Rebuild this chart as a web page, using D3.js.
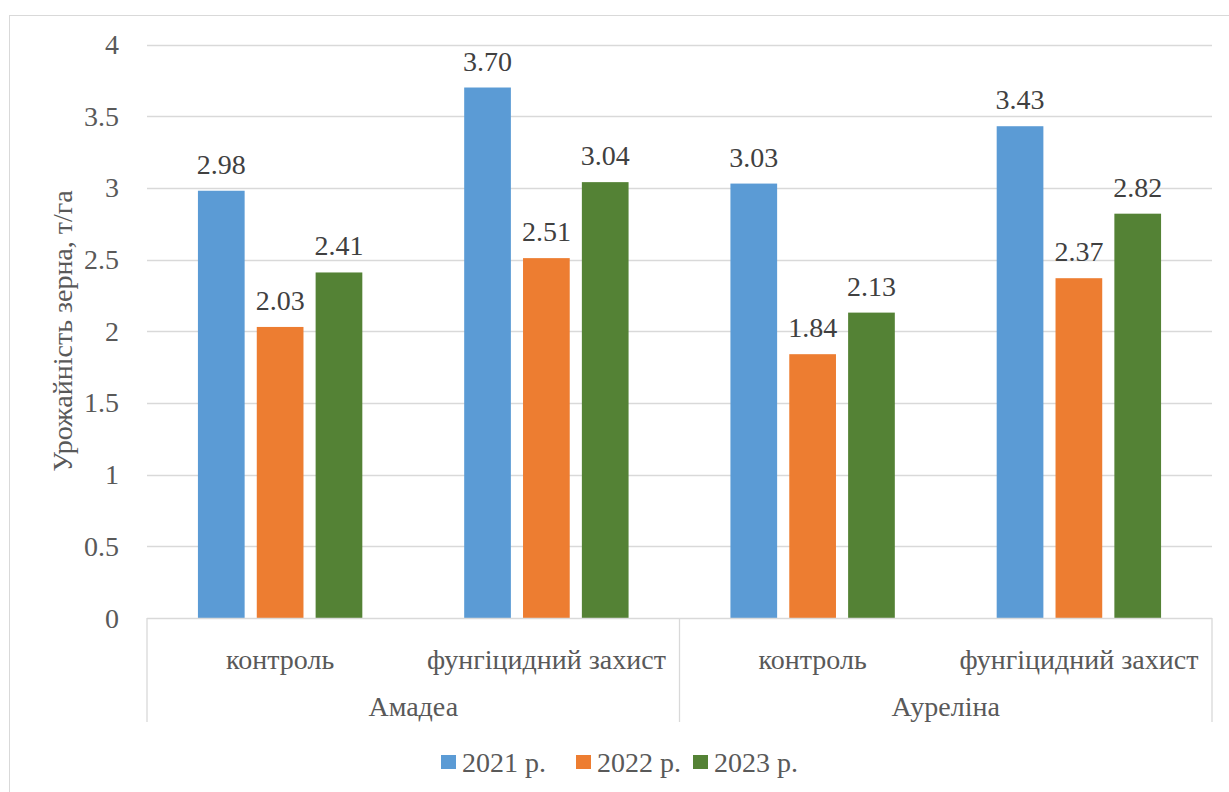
<!DOCTYPE html>
<html><head><meta charset="utf-8">
<script src="https://d3js.org/d3.v7.min.js"></script>
<style>
body{margin:0;background:#fff}
svg text, text{font-family:"Liberation Serif" !important}
</style>
</head><body><svg id="c" width="1229" height="792"></svg>
<script>
const groupNames = ["Амадеа", "Ауреліна"];
const categories = ["контроль", "фунгіцидний захист", "контроль", "фунгіцидний захист"];
const seriesNames = ["2021 р.", "2022 р.", "2023 р."];
const v2021 = [2.98, 3.70, 3.03, 3.43];
const v2022 = [2.03, 2.51, 1.84, 2.37];
const v2023 = [2.41, 3.04, 2.13, 2.82];
const yTicks = [0, 0.5, 1, 1.5, 2, 2.5, 3, 3.5, 4];
const colors = ["#5B9BD5", "#ED7D31", "#548235"];
const series = [v2021, v2022, v2023];

const FONT = '"Liberation Serif"';
const FS = 28;
function styl(sel, col) {
  return sel.attr("font-family", "Liberation Serif")
    .style("font-family", FONT, "important").style("font-size", FS + "px").style("fill", col || "#595959");
}

const svg = d3.select("#c");
svg.append("rect").attr("x",9.5).attr("y",15.5).attr("width",1260).attr("height",800)
  .attr("fill","none").attr("stroke","#D9D9D9");

const pLeft = 147, pRight = 1212, pTop = 44.5, pBottom = 618;
const y = d3.scaleLinear().domain([0,4]).range([pBottom, pTop]);
const x = d3.scaleBand().domain(d3.range(4)).range([pLeft, pRight]).padding(0);
const bw = x.bandwidth();
const barW = bw * 46.7/266.25, step = barW * 1.26;

svg.append("g").selectAll("line").data(yTicks.filter(d=>d>0)).join("line")
  .attr("x1",pLeft).attr("x2",pRight).attr("y1",d=>Math.round(y(d))+0.5).attr("y2",d=>Math.round(y(d))+0.5)
  .attr("stroke","#D9D9D9").attr("stroke-width",1.3);
styl(svg.append("g").selectAll("text").data(yTicks).join("text")
  .attr("x",119).attr("y",d=>y(d)+9.5).attr("text-anchor","end")
  .text(d=>d));

series.forEach((vals,si)=>{
  svg.append("g").selectAll("rect").data(vals).join("rect")
    .attr("x",(d,i)=>x(i)+bw/2 + (si-1)*step - barW/2)
    .attr("width",barW)
    .attr("y",d=>y(d)).attr("height",d=>y(0)-y(d))
    .attr("fill",colors[si]);
  styl(svg.append("g").selectAll("text").data(vals).join("text")
    .attr("x",(d,i)=>x(i)+bw/2 + (si-1)*step)
    .attr("y",d=>y(d)-17).attr("text-anchor","middle")
    .text(d=>d.toFixed(2)), "#404040");
});

svg.append("line").attr("x1",pLeft).attr("x2",pRight).attr("y1",pBottom+0.5).attr("y2",pBottom+0.5)
  .attr("stroke","#D9D9D9").attr("stroke-width",1.3);
[x(0), x(2), pRight].forEach(xx=>{
  svg.append("line").attr("x1",xx).attr("x2",xx).attr("y1",pBottom).attr("y2",722)
    .attr("stroke","#D9D9D9").attr("stroke-width",1.3);
});

styl(svg.append("g").selectAll("text").data(categories).join("text")
  .attr("x",(d,i)=>x(i)+bw/2).attr("y",669).attr("text-anchor","middle")
  .text(d=>d));
styl(svg.append("g").selectAll("text").data(groupNames).join("text")
  .attr("x",(d,i)=>x(i*2)+bw).attr("y",716).attr("text-anchor","middle")
  .text(d=>d));

styl(svg.append("text").attr("transform","translate(72,331) rotate(-90)").attr("text-anchor","middle")
  .text("Урожайність зерна, т/га"));

const legX = [441, 576, 693];
seriesNames.forEach((s,i)=>{
  svg.append("rect").attr("x",legX[i]).attr("y",755).attr("width",15).attr("height",14).attr("fill",colors[i]);
  styl(svg.append("text").attr("x",legX[i]+21).attr("y",772).text(s));
});
</script></body></html>
